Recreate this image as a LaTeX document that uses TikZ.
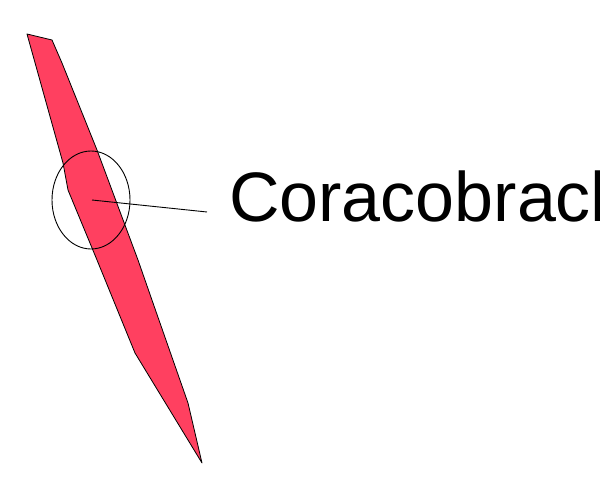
\documentclass[tikz,border=0pt]{standalone}
\usepackage{fontspec}
\setmainfont{Liberation Sans}
\usetikzlibrary{shapes.geometric}
\definecolor{muscle}{RGB}{255,64,96}
\begin{document}
\begin{tikzpicture}[x=1pt,y=-1pt,
  musclestyle/.style={fill=muscle,draw=black,line width=0.8pt,line join=round},
  ringstyle/.style={draw=black,ellipse,line width=0.9pt,minimum width=78pt,minimum height=98pt,inner sep=0pt},
  leader/.style={draw=black,line width=0.9pt},
  labelstyle/.style={anchor=base west,inner sep=0pt,font=\fontsize{70}{84}\selectfont}]
\useasboundingbox (0,0) rectangle (600,500);
\fill[white] (0,0) rectangle (600,500);
\draw[musclestyle] (27,34) -- (52,40) -- (62,63) -- (97,150) -- (138,260) -- (153,303) -- (188,403) -- (202,463)
  -- (135,353) -- (97,260) -- (68,190) -- (63,163) -- cycle;
\node[ringstyle] (ring) at (91,200) {};
\coordinate (inner) at (92,200);
\coordinate (lineend) at (207,212);
\draw[leader] (inner) -- (lineend);
\node[labelstyle] (label) at (229,221) {Coracobrach};
\end{tikzpicture}
\end{document}
